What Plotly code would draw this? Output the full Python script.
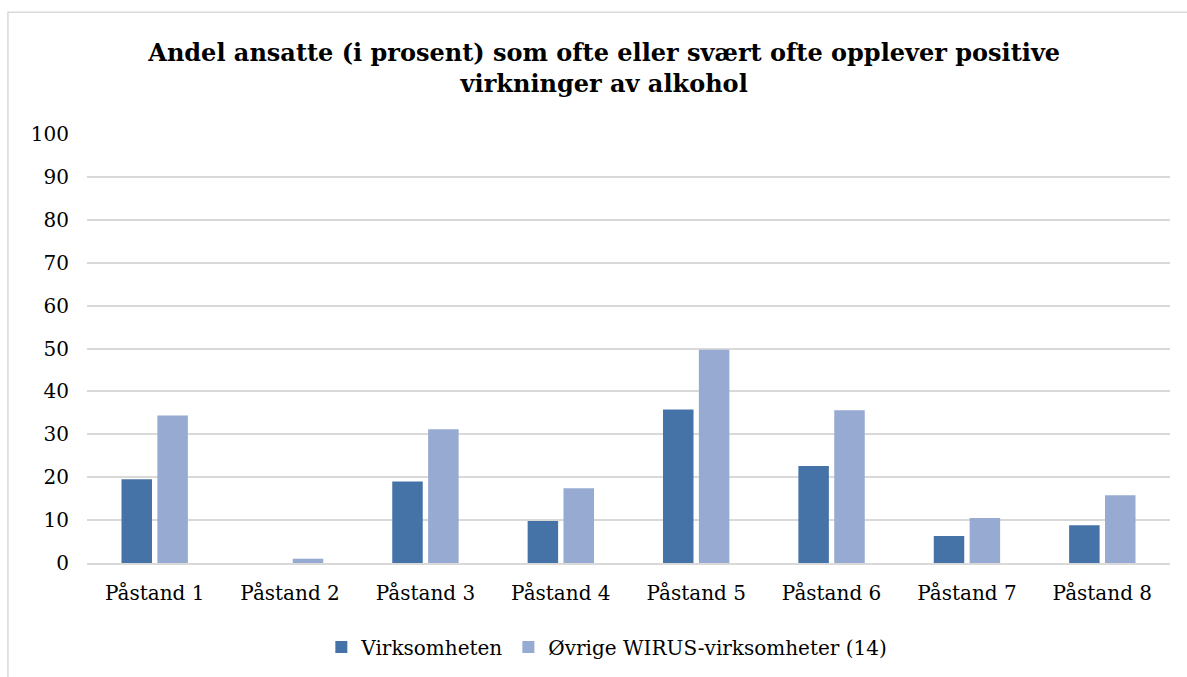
import plotly.graph_objects as go

categories = ["Påstand 1", "Påstand 2", "Påstand 3", "Påstand 4",
              "Påstand 5", "Påstand 6", "Påstand 7", "Påstand 8"]
virksomheten = [19.5, 0, 19.0, 9.8, 35.8, 22.6, 6.3, 8.8]
ovrige = [34.4, 1.0, 31.2, 17.4, 49.7, 35.6, 10.5, 15.8]
series_names = ["Virksomheten", "Øvrige WIRUS-virksomheter (14)"]
title_text = ("Andel ansatte (i prosent) som ofte eller svært ofte opplever positive<br>"
              "virkninger av alkohol")

serif = "DejaVu Serif"

fig = go.Figure()
fig.add_trace(go.Bar(x=categories, y=virksomheten, name=series_names[0],
                     marker=dict(color="#4673A7", line=dict(width=0))))
fig.add_trace(go.Bar(x=categories, y=ovrige, name=series_names[1],
                     marker=dict(color="#96AAD2", line=dict(width=0))))

fig.update_layout(
    width=1187, height=677,
    margin=dict(l=87, r=17, t=134, b=113),
    paper_bgcolor="white", plot_bgcolor="white",
    barmode="group", bargap=0.47, bargroupgap=0.15,
    title=dict(text=f"<b>{title_text}</b>", x=0.509, xanchor="center",
               y=0.91, yanchor="middle",
               font=dict(family=serif, size=24, color="#000000")),
    font=dict(family=serif, size=20, color="#000000"),
    showlegend=True,
    legend=dict(orientation="h", x=0.48, xanchor="center", y=-0.193, yanchor="middle",
                font=dict(family=serif, size=20, color="#000000"),
                itemwidth=30, traceorder="normal"),
    yaxis=dict(range=[0, 100], dtick=10, showgrid=True, gridcolor="#d9d9d9", gridwidth=1.5,
               zeroline=False, showline=False, ticks="", ticklabelstandoff=17,
               tickfont=dict(family=serif, size=20, color="#000000")),
    xaxis=dict(showline=True, linecolor="#d9d9d9", linewidth=1.5, ticks="",
               ticklabelstandoff=11,
               tickfont=dict(family=serif, size=20, color="#000000")),
    shapes=[dict(type="rect", xref="paper", yref="paper",
                 x0=-0.073, x1=1.3, y0=-0.6, y1=1.284,
                 line=dict(color="#d9d9d9", width=1.5), fillcolor="rgba(0,0,0,0)",
                 layer="below")],
)

fig.write_html("out.html", config={"displayModeBar": False},
               post_script="document.body.style.margin='0';")
